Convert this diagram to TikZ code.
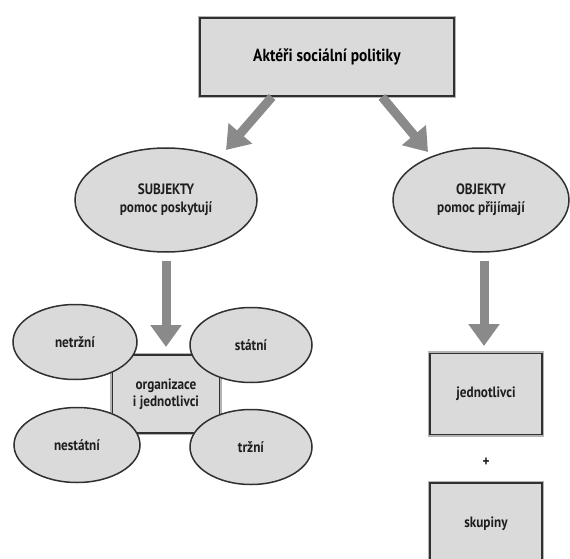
\documentclass[tikz,border=0pt]{standalone}
\usepackage{fontspec}
\setmainfont{PT Sans}[FakeStretch=0.88]
\usetikzlibrary{shapes.geometric,arrows.meta}
\definecolor{boxfill}{HTML}{DADADA}
\definecolor{edge}{HTML}{303030}
\definecolor{halo}{HTML}{B4B4B4}
\definecolor{arrowgray}{HTML}{8A8A8A}
\definecolor{ink}{HTML}{1E1E1E}
\tikzset{
  base/.style={fill=boxfill, draw=edge, align=center, text=ink, font=\fontsize{15}{17}\selectfont\bfseries, inner sep=0pt},
  rectbox/.style={base, rectangle, line width=1.8pt, preaction={draw=halo, line width=4.5pt}},
  oval/.style={base, ellipse, line width=1.5pt},
  blockarrow/.style={draw=arrowgray, line width=9pt, -{Triangle[width=30pt,length=22pt]}, arrowgray}
}
\begin{document}
\begin{tikzpicture}[x=1pt,y=-1pt]
\useasboundingbox (0,0) rectangle (570,559);

% title box
\node[rectbox, minimum width=254pt, minimum height=78pt, text=black, font=\fontsize{17.5}{20}\selectfont\bfseries] (title) at (327,57) {Aktéři sociální politiky};

% main groups
\node[oval, minimum width=182pt, minimum height=104pt] (subj) at (166,200) {SUBJEKTY\\[1pt]pomoc poskytují};
\node[oval, minimum width=176pt, minimum height=104pt] (obj) at (481,200) {OBJEKTY\\[1pt]pomoc přijímají};

% subjects: central box, partly covered by four ovals
\node[rectbox, minimum width=107pt, minimum height=78pt] (org) at (166,394) {organizace\\i jednotlivci};
\node[oval, minimum width=124pt, minimum height=75pt] (netrz) at (75,342) {netržní};
\node[oval, minimum width=122pt, minimum height=75pt] (stat) at (251,345) {státní};
\node[oval, minimum width=126pt, minimum height=75pt] (nestat) at (77,445) {nestátní};
\node[oval, minimum width=122pt, minimum height=75pt] (trz) at (251,447) {tržní};

% objects: two boxes
\node[rectbox, minimum width=112pt, minimum height=81pt] (indiv) at (486,394) {jednotlivci};
\node[text=ink, font=\fontsize{15}{17}\selectfont\bfseries] (plus) at (486,462) {+};
\node[rectbox, minimum width=112pt, minimum height=82pt] (groups) at (486,524) {skupiny};

% block arrows
\coordinate (aL) at (226,150);
\coordinate (aR) at (428,152);
\coordinate (aS) at (166,347);
\coordinate (aO) at (484,346);
\draw[blockarrow] ([xshift=-55pt]title.south) -- (aL);
\draw[blockarrow] ([xshift=55pt]title.south) -- (aR);
\draw[blockarrow] ([yshift=-8pt]subj.south) -- (aS);
\draw[blockarrow] ([xshift=3pt,yshift=-8pt]obj.south) -- (aO);
\end{tikzpicture}
\end{document}
